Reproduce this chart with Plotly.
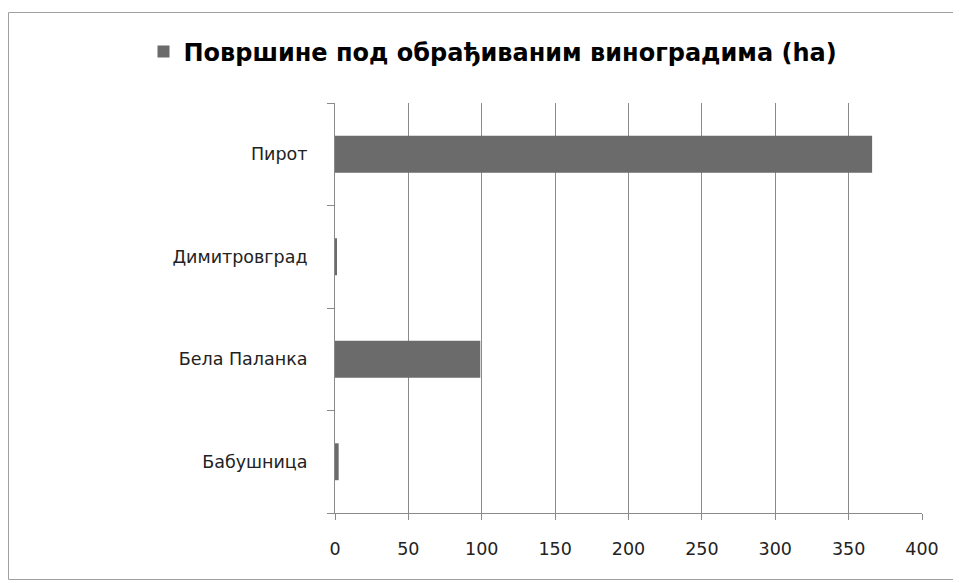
import plotly.graph_objects as go

municipalities = ["Бабушница", "Бела Паланка", "Димитровград", "Пирот"]
area_ha = [2.5, 99, 1.2, 366]
series_name = "Површине под обрађиваним виноградима (ha)"
x_ticks = [0, 50, 100, 150, 200, 250, 300, 350, 400]

W, H = 953, 575
ml, mr, mt, mb = 327, 39, 95, 70
pw, ph = W - ml - mr, H - mt - mb

fig = go.Figure()
fig.add_trace(go.Bar(
    x=area_ha, y=municipalities, orientation="h",
    name=series_name, marker=dict(color="#6b6b6b", line=dict(width=0)),
    width=0.36, showlegend=True,
))

def px_x(p):
    return (p - ml) / pw

def px_y(p):
    return (H - mb - p) / ph

tick_font = dict(family="DejaVu Sans", size=17.5, color="#222222")

fig.update_layout(
    width=W, height=H,
    margin=dict(l=ml, r=mr, t=mt, b=mb),
    paper_bgcolor="white", plot_bgcolor="white",
    font=tick_font,
    showlegend=True,
    legend=dict(
        x=px_x(485), y=px_y(44), xanchor="center", yanchor="middle",
        orientation="h",
        font=dict(family="DejaVu Sans", size=24, color="#000000", weight="bold"),
        itemwidth=30, bgcolor="rgba(0,0,0,0)",
    ),
    xaxis=dict(
        range=[0, 400], tickvals=x_ticks, ticktext=[str(v) for v in x_ticks],
        showgrid=True, gridcolor="#8a8a8a", gridwidth=1,
        showline=True, linecolor="#8a8a8a", linewidth=1,
        ticks="outside", ticklen=6, tickcolor="#8a8a8a",
        ticklabelstandoff=14, zeroline=False,
        tickfont=tick_font,
    ),
    yaxis=dict(
        categoryorder="array", categoryarray=municipalities,
        showline=True, linecolor="#8a8a8a", linewidth=1,
        ticks="outside", ticklen=7, tickcolor="#8a8a8a", tickson="boundaries",
        ticklabelstandoff=23, showgrid=False,
        tickfont=tick_font,
    ),
    shapes=[dict(
        type="rect", xref="paper", yref="paper",
        x0=px_x(0.5), x1=px_x(949.5), y0=px_y(571.5), y1=px_y(4.5),
        line=dict(color="#a0a0a0", width=1), fillcolor="rgba(0,0,0,0)", layer="below",
    )],
)

fig.write_html("out.html")
